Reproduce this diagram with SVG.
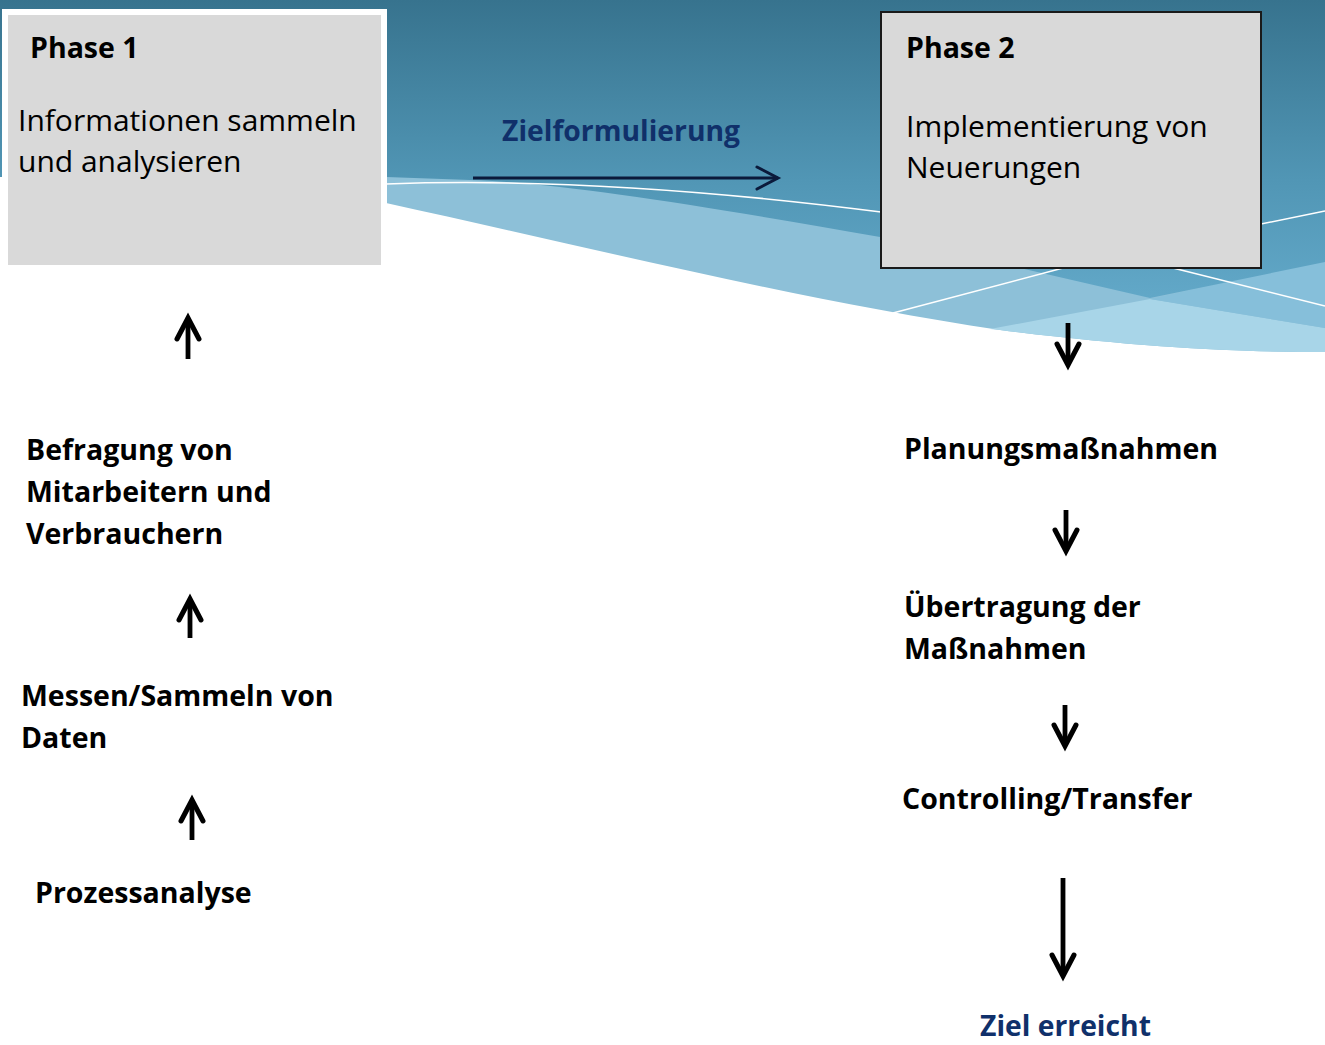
<svg xmlns="http://www.w3.org/2000/svg" width="1325" height="1045" viewBox="0 0 1325 1045">
<defs>
<linearGradient id="sky" x1="0" y1="0" x2="0" y2="300" gradientUnits="userSpaceOnUse">
<stop offset="0" stop-color="#37738e"/>
<stop offset="0.6" stop-color="#5196b5"/>
<stop offset="1" stop-color="#62a8c8"/>
</linearGradient>
<marker id="chev" markerUnits="userSpaceOnUse" viewBox="-24 -14 28 28" markerWidth="28" markerHeight="28" refX="0" refY="0" orient="auto" overflow="visible">
<path d="M-21,-11 L0,0 L-21,11" fill="none" stroke="#000" stroke-width="5" stroke-linecap="round" stroke-linejoin="miter"/>
</marker>
<marker id="chevBlue" markerUnits="userSpaceOnUse" viewBox="-24 -14 28 28" markerWidth="28" markerHeight="28" refX="0" refY="0" orient="auto" overflow="visible">
<path d="M-21,-11 L0,0 L-21,11" fill="none" stroke="#0b1a3b" stroke-width="3" stroke-linecap="round"/>
</marker>
</defs>
<style>
.box{fill:#d9d9d9}
.title{font-family:"Open Sans","Liberation Sans",sans-serif;font-weight:700;font-size:28.5px;fill:#000}
.body{font-family:"Open Sans","Liberation Sans",sans-serif;font-size:30px;fill:#000}
.lbl{font-family:"Open Sans","Liberation Sans",sans-serif;font-weight:700;font-size:28.5px;fill:#000}
.goal{font-family:"Open Sans","Liberation Sans",sans-serif;font-weight:700;font-size:28.3px;fill:#10306a}
.arr{fill:none;stroke:#000;stroke-width:4.8;marker-end:url(#chev)}
.wline{fill:none;stroke:#fff;stroke-width:1.5}
</style>
<rect width="1325" height="1045" fill="#fff"/>
<g id="background">
<path d="M386,203 C600,250 800,300 1000,330 C1150,349 1250,352 1325,352 L1325,200 L386,170 Z" fill="#8dc0d8"/>
<path d="M990,329 L1150,299 L1325,328 L1325,352 C1250,352 1150,349 1000,330 Z" fill="#a8d5e8"/>
<path d="M1150,299 L1325,260 L1325,328 Z" fill="#86bfda"/>
<path d="M0,0 H1325 V262 L1150,298 L1020,268 C960,255 920,245 880,237 C700,205 550,182 470,180 L386,177 L0,177 Z" fill="url(#sky)"/>
<path class="wline" d="M386,184 Q600,176 881,212 L1070,236 L1261,224 L1325,211"/>
<path class="wline" d="M893,313 L1063,268"/>
<path class="wline" d="M1173,268 L1325,306"/>
</g>
<g id="phase1">
<rect x="2" y="9" width="385" height="262" fill="#fff"/>
<rect class="box" x="8" y="15" width="373" height="250"/>
<text class="title" x="30" y="58">Phase 1</text>
<text class="body" x="18" y="131">Informationen sammeln</text>
<text class="body" x="18" y="172">und analysieren</text>
</g>
<g id="phase2">
<rect class="box" x="881" y="12" width="380" height="256" stroke="#1a1a1a" stroke-width="2"/>
<text class="title" x="906" y="58">Phase 2</text>
<text class="body" x="906" y="137">Implementierung von</text>
<text class="body" x="906" y="178">Neuerungen</text>
</g>
<g id="zielformulierung">
<text class="goal" x="502" y="141">Zielformulierung</text>
</g>
<g id="befragung">
<text class="lbl" x="26" y="460">Befragung von</text>
<text class="lbl" x="26" y="502">Mitarbeitern und</text>
<text class="lbl" x="26" y="544">Verbrauchern</text>
</g>
<g id="messen">
<text class="lbl" x="21" y="706">Messen/Sammeln von</text>
<text class="lbl" x="21" y="748">Daten</text>
</g>
<g id="prozessanalyse">
<text class="lbl" x="35" y="903">Prozessanalyse</text>
</g>
<g id="planung">
<text class="lbl" x="904" y="459">Planungsmaßnahmen</text>
</g>
<g id="uebertragung">
<text class="lbl" x="904" y="617">Übertragung der</text>
<text class="lbl" x="904" y="659">Maßnahmen</text>
</g>
<g id="controlling">
<text class="lbl" x="902" y="809">Controlling/Transfer</text>
</g>
<g id="ziel">
<text class="goal" x="980" y="1036">Ziel erreicht</text>
</g>
<g id="connectors">
<path d="M473,178 H778" fill="none" stroke="#0b1a3b" stroke-width="3" marker-end="url(#chevBlue)"/>
<path class="arr" d="M188,359 V318"/>
<path class="arr" d="M190,638 V599"/>
<path class="arr" d="M192,840 V800"/>
<path class="arr" d="M1068,323 V365"/>
<path class="arr" d="M1066,510 V551"/>
<path class="arr" d="M1065,705 V746"/>
<path class="arr" d="M1063,878 V976"/>
</g>
</svg>
